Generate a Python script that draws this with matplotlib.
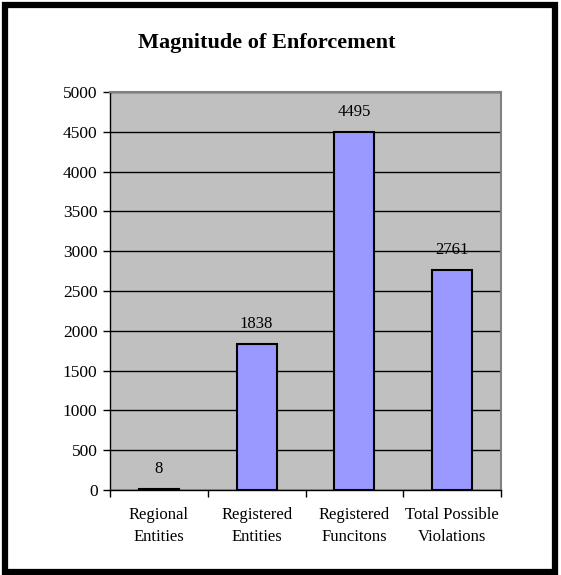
import numpy as np
import matplotlib.pyplot as plt
from matplotlib.patches import Rectangle

categories = ["Regional\nEntities", "Registered\nEntities", "Registered\nFuncitons", "Total Possible\nViolations"]
values = [8, 1838, 4495, 2761]
yticks = [0, 500, 1000, 1500, 2000, 2500, 3000, 3500, 4000, 4500, 5000]

plt.rcParams['font.family'] = ['Liberation Serif', 'DejaVu Serif']

W, H = 561, 575
fig = plt.figure(figsize=(W / 100, H / 100), dpi=100)

# outer black frame
fig.patches.append(Rectangle((5 / W, 3 / H), 550 / W, 567 / H, transform=fig.transFigure,
                             fill=False, edgecolor='black', linewidth=4.5))

ax = fig.add_axes([110 / W, 1 - 490 / H, 391 / W, 398 / H])
ax.set_facecolor('#c0c0c0')

x = np.arange(len(values))
ax.bar(x, values, width=0.41, color='#9999ff', edgecolor='black', linewidth=1.5, zorder=3)

for xi, v in zip(x, values):
    ax.text(xi, v + 150, str(v), ha='center', va='bottom', fontsize=12)

ax.set_xlim(-0.5, len(values) - 0.5)
ax.set_ylim(0, 5000)
ax.set_yticks(yticks)
ax.set_yticklabels([str(t) for t in yticks], fontsize=12.5)
ax.yaxis.grid(True, color='black', linewidth=1)
ax.set_axisbelow(True)

# category boundary ticks on x axis
ax.set_xticks(np.arange(-0.5, len(values), 1.0))
ax.set_xticklabels([])
ax.set_xticks(x, minor=True)
ax.set_xticklabels(categories, minor=True, fontsize=12, linespacing=1.5)
ax.tick_params(axis='x', which='minor', length=0, pad=12)
ax.tick_params(axis='x', which='major', length=5, width=1, direction='out')
ax.tick_params(axis='y', length=5, width=1, direction='out', pad=4)

for s in ['top', 'right']:
    ax.spines[s].set_color('#808080')
    ax.spines[s].set_linewidth(1.5)
for s in ['left', 'bottom']:
    ax.spines[s].set_color('black')
    ax.spines[s].set_linewidth(1)

fig.text(0.5 * (140 + 393) / W, 1 - 43 / H, "Magnitude of Enforcement", ha='center', va='center',
         fontsize=16, fontweight='bold')

fig.savefig('out.png', dpi=100)
